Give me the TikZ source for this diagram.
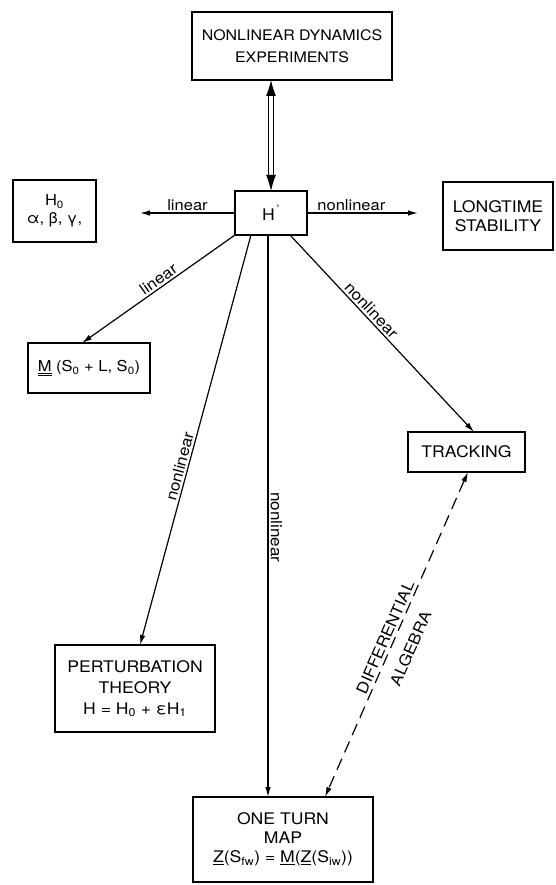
\documentclass[tikz,border=0pt]{standalone}
\usepackage{fontspec}
\setmainfont{TeX Gyre Heros}[FakeStretch=1.1]
\usetikzlibrary{arrows.meta}
\tikzset{bigtip/.tip={Latex[length=16pt,width=10pt]}}
\begin{document}
\begin{tikzpicture}[x=1pt,y=-1pt,
  box/.style={draw, line width=1.4pt, inner sep=0pt, outer sep=0pt, align=center},
  conn/.style={line width=1.2pt, -{Latex[length=10pt,width=5.5pt]}},
  lbl/.style={font=\fontsize{15.5}{17}\selectfont, inner sep=2pt},
  hlbl/.style={font=\fontsize{15}{17}\selectfont, inner sep=2pt}]
\useasboundingbox (0,0) rectangle (555,885);
% boxes
\node[box, minimum width=200pt, minimum height=68pt, font=\fontsize{14.5}{22}\selectfont] (exp) at (292,46) {NONLINEAR DYNAMICS\\EXPERIMENTS};
\node[box, minimum width=72pt, minimum height=44pt, font=\fontsize{16}{18}\selectfont] (H) at (271,213) {H\textsuperscript{\,'}};
\node[box, minimum width=83pt, minimum height=62pt, font=\fontsize{15}{18}\selectfont] (H0) at (54.5,211) {H\textsubscript{0}\\α, β, γ,};
\node[box, minimum width=110pt, minimum height=68pt, font=\fontsize{16}{19.5}\selectfont] (lts) at (498,216) {LONGTIME\\STABILITY};
\node[box, minimum width=122pt, minimum height=50pt, font=\fontsize{15}{18}\selectfont] (M) at (89,368) {\underline{\underline{M}} (S\textsubscript{0} + L, S\textsubscript{0})};
\node[box, minimum width=117pt, minimum height=40pt, font=\fontsize{16}{18}\selectfont] (track) at (466.5,452) {TRACKING};
\node[box, minimum width=160pt, minimum height=87pt, font=\fontsize{16}{21}\selectfont] (pert) at (135,688.5) {PERTURBATION\\THEORY\\H = H\textsubscript{0} + εH\textsubscript{1}};
\node[box, minimum width=180pt, minimum height=85pt, font=\fontsize{16}{19}\selectfont] (map) at (283,839.5) {ONE TURN\\MAP\\\underline{Z}(S\textsubscript{fw}) = \underline{M}(\underline{Z}(S\textsubscript{iw}))};
% free ends
\coordinate (linE) at (140,213);
\coordinate (nlE) at (418,213);
% double arrow between experiments and H
\draw[line width=5.5pt, shorten <=13pt, shorten >=13pt] (exp.south -| H.north) -- (H.north);
\draw[white, line width=3.3pt, shorten <=13pt, shorten >=13pt] (exp.south -| H.north) -- (H.north);
\draw[line width=1pt, -{bigtip}] ([yshift=-14pt]exp.south -| H.north) -- (exp.south -| H.north);
\draw[line width=1pt, -{bigtip}] ([yshift=14pt]H.north) -- (H.north);
% connectors
\draw[conn] (H.west) -- node[hlbl, above] {linear} (linE);
\draw[conn] (H.east) -- node[hlbl, above, pos=0.4] {nonlinear} (nlE);
\draw[conn] (H.south west) -- node[lbl, above, sloped, pos=0.47] {linear} ([xshift=-7pt]M.north);
\draw[conn] ([xshift=-20pt]H.south) -- node[lbl, above, sloped, pos=0.57] {nonlinear} ([xshift=5pt]pert.north);
\draw[conn] ([xshift=-3pt]H.south) -- node[lbl, above, sloped, pos=0.52] {nonlinear} ([xshift=-3pt]H.south |- map.north);
\draw[conn] ([xshift=19pt]H.south) -- node[lbl, above, sloped, pos=0.41] {nonlinear} ([xshift=7.5pt]track.north);
\draw[line width=1.2pt, dash pattern=on 12pt off 7pt, {Latex[length=10pt,width=5.5pt]}-{Latex[length=10pt,width=5.5pt]}] ([xshift=1.5pt]track.south) -- node[lbl, above=1pt, sloped, pos=0.52] {DIFFERENTIAL} node[lbl, below=10pt, sloped, pos=0.52] {ALGEBRA} ([xshift=42pt]map.north);
\end{tikzpicture}
\end{document}
